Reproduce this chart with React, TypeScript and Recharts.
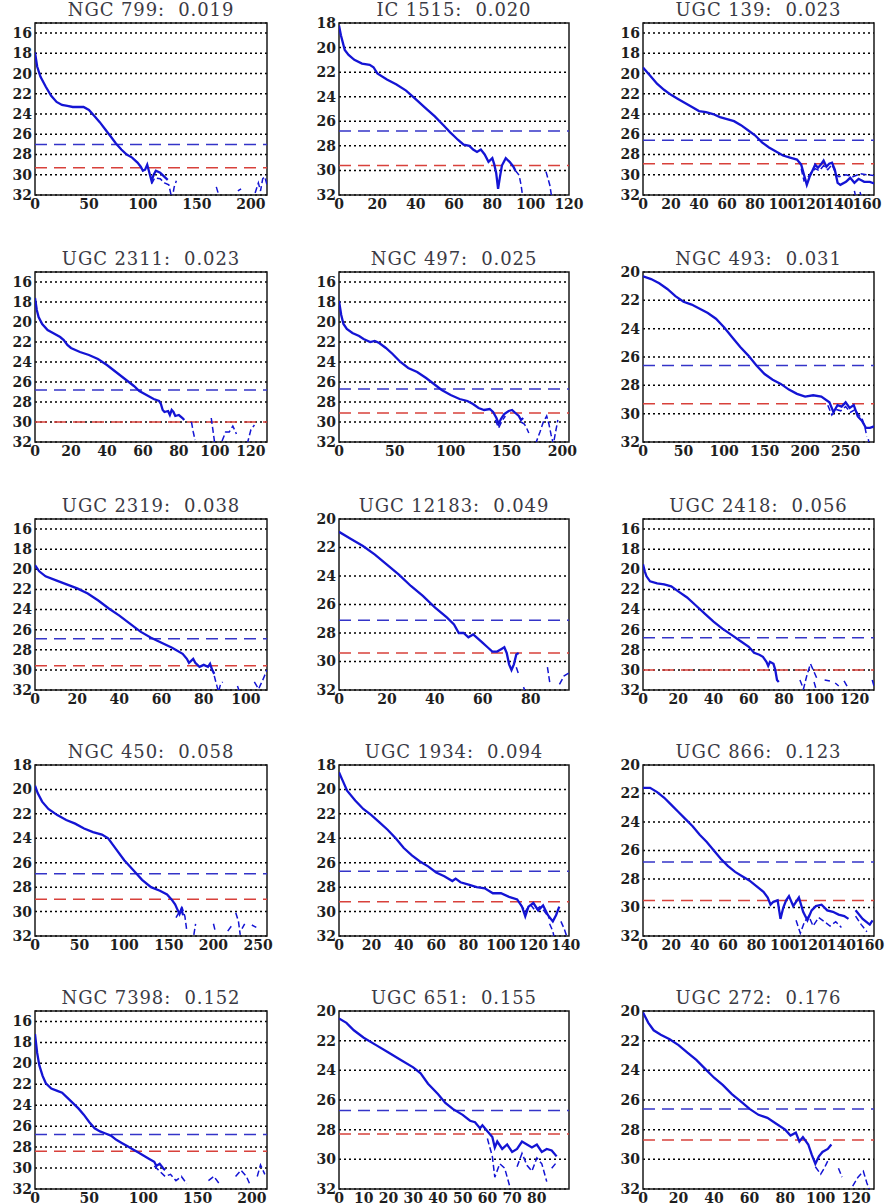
import React from 'react';
import {
  LineChart,
  Line,
  XAxis,
  YAxis,
  CartesianGrid,
  ReferenceLine,
  ReferenceArea
} from 'recharts';

// [radius, surface brightness]; null breaks the line
type Pt = [number, number | null];

const NGC799_PROFILE: Pt[] = [
  [0, 17.9], [2, 19.3], [5, 20.3], [10, 21.3], [15, 22.2], [20, 22.8], [25, 23.1], [30, 23.2],
  [35, 23.3], [40, 23.3], [45, 23.3], [50, 23.6], [55, 24.2], [60, 24.8], [65, 25.5], [70, 26.2],
  [75, 26.9], [80, 27.5], [85, 28.0], [90, 28.3], [95, 28.8], [98, 29.2], [100, 29.6], [102, 29.5],
  [104, 29.0], [106, 29.8], [108, 30.6], [110, 30.0], [112, 29.6], [116, 29.8], [120, 30.2], [123, 30.5]
];
const NGC799_TAIL: Pt[] = [
  [108, 30.9], [111, 30.3], [116, 30.4], [120, 30.8], [124, 31.0], [127, 32.4], [129, 31.2], [131, 30.6], [132, null],
  [168, 31.2], [170, 31.9], [171, null], [188, 31.6], [191, 31.4], [192, null],
  [204, 31.8], [207, 30.8], [209, 31.6], [211, 30.4], [213, 30.2], [215, 31.0]
];

const IC1515_PROFILE: Pt[] = [
  [0, 18.2], [1, 19.0], [2, 19.6], [3, 20.2], [5, 20.6], [8, 21.0], [12, 21.3], [16, 21.4], [18, 21.6],
  [20, 22.1], [25, 22.6], [30, 23.0], [35, 23.5], [40, 24.2], [45, 24.9], [50, 25.6], [55, 26.4],
  [58, 26.9], [60, 27.2], [62, 27.5], [65, 27.9], [68, 28.0], [70, 28.3], [72, 28.5], [74, 28.3],
  [76, 28.7], [78, 29.3], [80, 29.0], [81, 29.5], [82, 30.2], [83, 31.5], [84, 30.5], [85, 29.6],
  [87, 29.0], [89, 29.3], [91, 29.7], [92, 30.0]
];
const IC1515_TAIL: Pt[] = [
  [92, 30.0], [94, 30.4], [95, 31.2], [96, 32.3], [97, null],
  [108, 30.1], [110, 31.2], [111, 32.2]
];

const UGC139_PROFILE: Pt[] = [
  [0, 19.4], [5, 20.2], [10, 21.0], [15, 21.6], [20, 22.1], [25, 22.5], [30, 22.9], [35, 23.3],
  [40, 23.7], [45, 23.8], [50, 24.0], [55, 24.3], [60, 24.5], [65, 24.7], [70, 25.1], [75, 25.6],
  [80, 26.1], [85, 26.8], [90, 27.3], [95, 27.7], [100, 28.1], [105, 28.3], [110, 28.5], [113, 29.0],
  [115, 30.0], [117, 31.0], [119, 30.2], [121, 29.6], [123, 29.0], [125, 29.3], [127, 29.0],
  [129, 28.6], [131, 29.2], [133, 28.9], [135, 28.8], [137, 29.5], [139, 30.8], [141, 31.0],
  [145, 30.7], [148, 30.3], [151, 30.8], [154, 30.4], [158, 30.7], [162, 30.7], [166, 30.9]
];
const UGC139_TAIL: Pt[] = [
  [113, 29.4], [115, 30.6], [117, 30.4], [120, 29.8], [123, 29.4], [126, 29.6], [129, 29.1], [132, 29.5], [135, 29.0],
  [138, 30.0], [140, 30.2], [145, 30.0], [150, 30.2], [155, 29.9], [160, 30.0], [166, 30.1], [167, null],
  [150, null], [151, 31.6], [152, 32.2], [153, null], [155, 31.7], [156, 32.2]
];

const UGC2311_PROFILE: Pt[] = [
  [0, 17.6], [1, 18.8], [2, 19.5], [4, 20.2], [7, 20.8], [10, 21.1], [14, 21.5], [16, 21.8], [18, 22.3],
  [20, 22.6], [25, 23.0], [30, 23.3], [35, 23.7], [40, 24.3], [45, 25.0], [50, 25.7], [55, 26.4],
  [58, 26.9], [62, 27.3], [66, 27.7], [69, 27.9], [70, 28.2], [71, 28.8], [72, 29.0], [74, 28.9],
  [75, 29.3], [76, 28.8], [77, 29.0], [78, 29.4], [80, 29.3], [82, 29.6], [83, 29.8]
];
const UGC2311_TAIL: Pt[] = [
  [87, 30.0], [88, 31.0], [89, 31.8], [90, null],
  [98, 29.6], [100, 32.2], [101, null],
  [104, 31.9], [106, 31.0], [108, 31.0], [110, 30.4], [112, 31.2], [113, null],
  [118, 32.2], [120, 30.8], [122, 30.3]
];

const NGC497_PROFILE: Pt[] = [
  [0, 17.9], [2, 19.3], [4, 20.2], [7, 20.7], [12, 21.1], [18, 21.4], [22, 21.7], [28, 22.0], [32, 21.9],
  [36, 22.1], [42, 22.6], [48, 23.2], [55, 24.0], [62, 24.6], [70, 25.0], [78, 25.6], [85, 26.2],
  [92, 26.8], [100, 27.3], [108, 27.7], [115, 27.9], [120, 28.2], [125, 28.6], [130, 28.8], [135, 28.7],
  [138, 29.0], [141, 29.6], [143, 30.2], [145, 29.7], [148, 29.2], [152, 28.9], [155, 28.8],
  [158, 29.1], [161, 29.4], [163, 29.8], [165, 29.6]
];
const NGC497_TAIL: Pt[] = [
  [140, 29.8], [143, 30.6], [146, 29.9], [149, 29.4], [150, null],
  [163, 30.0], [166, 30.2], [168, 30.6], [170, 31.1], [171, null],
  [176, 32.2], [180, 31.0], [183, 30.0], [186, 29.4], [188, 30.2], [190, 31.3], [192, 32.2], [194, 31.0], [196, 29.8]
];

const NGC493_PROFILE: Pt[] = [
  [0, 20.3], [10, 20.5], [20, 20.8], [30, 21.2], [40, 21.7], [50, 22.1], [60, 22.3], [70, 22.6],
  [80, 22.9], [90, 23.3], [100, 23.9], [110, 24.6], [120, 25.3], [130, 25.9], [140, 26.6], [150, 27.2],
  [160, 27.6], [170, 27.9], [180, 28.3], [190, 28.6], [200, 28.8], [210, 28.7], [220, 28.8],
  [230, 29.2], [235, 29.9], [240, 29.4], [245, 29.5], [250, 29.2], [255, 29.6], [260, 29.4],
  [265, 30.2], [270, 30.5], [275, 31.0], [280, 31.0], [285, 30.9]
];
const NGC493_TAIL: Pt[] = [
  [228, 29.4], [233, 30.1], [238, 29.7], [244, 29.8], [250, 29.5], [256, 29.9], [262, 29.7],
  [266, 30.1], [270, 30.3], [274, 31.0], [276, 31.6], [277, null], [278, 31.8], [279, 32.2]
];

const UGC2319_PROFILE: Pt[] = [
  [0, 19.6], [2, 20.2], [5, 20.7], [10, 21.1], [15, 21.5], [20, 21.9], [25, 22.4], [30, 23.1],
  [35, 23.9], [40, 24.6], [45, 25.4], [50, 26.2], [55, 26.8], [60, 27.3], [65, 27.8], [70, 28.4],
  [72, 28.9], [73, 29.3], [75, 28.9], [76, 29.3], [78, 29.7], [80, 29.5], [82, 29.7], [83, 29.4],
  [84, 30.0], [85, 30.4]
];
const UGC2319_TAIL: Pt[] = [
  [85, 30.6], [86, 31.4], [87, 32.2], [88, 31.4], [89, 31.2], [90, null],
  [96, 31.6], [97, 32.2], [98, null],
  [104, 31.2], [106, 31.9], [108, 31.0], [110, 30.0]
];

const UGC12183_PROFILE: Pt[] = [
  [0, 20.9], [5, 21.4], [10, 21.9], [15, 22.5], [20, 23.2], [25, 23.9], [30, 24.7], [35, 25.4],
  [40, 26.2], [45, 26.9], [48, 27.4], [50, 28.0], [52, 28.0], [54, 28.3], [56, 28.1], [58, 28.4],
  [60, 28.7], [62, 29.0], [64, 29.3], [66, 29.3], [68, 29.1], [69, 29.0], [70, 29.4], [71, 30.2],
  [72, 30.6], [73, 30.2], [74, 29.5], [75, 29.4]
];
const UGC12183_TAIL: Pt[] = [
  [74, 30.4], [75, 30.9], [76, null], [77, 31.8], [78, 32.2], [79, null],
  [87, 30.4], [88, 31.5], [89, null],
  [92, 31.6], [94, 31.0], [96, 30.8]
];

const UGC2418_PROFILE: Pt[] = [
  [0, 19.5], [1, 20.2], [2, 20.7], [4, 21.2], [8, 21.4], [12, 21.5], [16, 21.7], [20, 22.2],
  [25, 22.8], [30, 23.6], [35, 24.4], [40, 25.2], [45, 25.9], [50, 26.5], [55, 27.1], [60, 27.7],
  [63, 28.3], [66, 28.5], [68, 28.7], [70, 29.2], [71, 29.6], [72, 29.2], [74, 29.4], [75, 30.0],
  [76, 31.0], [77, 31.2]
];
const UGC2418_TAIL: Pt[] = [
  [89, 31.0], [91, 31.9], [93, 30.5], [95, 29.4], [97, 30.2], [99, 31.0], [100, null],
  [96, null], [97, 31.2], [98, 31.8], [99, null],
  [103, 31.0], [106, 31.1], [107, null], [109, 31.3], [111, 31.6], [112, null],
  [114, 31.1], [116, 31.7], [117, null], [130, 31.0], [131, 31.6]
];

const NGC450_PROFILE: Pt[] = [
  [0, 19.7], [3, 20.3], [8, 21.0], [15, 21.6], [25, 22.1], [35, 22.5], [45, 22.8], [55, 23.2],
  [65, 23.5], [75, 23.7], [82, 24.0], [90, 24.8], [100, 25.8], [110, 26.6], [120, 27.4], [130, 28.0],
  [140, 28.3], [148, 28.6], [153, 29.0], [157, 29.4], [160, 29.9], [162, 30.2], [164, 29.8], [166, 30.3]
];
const NGC450_TAIL: Pt[] = [
  [158, 30.5], [162, 30.0], [165, 29.7], [168, 30.4], [170, 31.5], [171, null],
  [178, 31.9], [180, 31.0], [181, null],
  [200, 31.0], [202, 31.6], [203, null],
  [216, 31.6], [220, 31.2], [221, null],
  [225, 30.1], [228, 30.8], [230, 31.9], [231, null],
  [232, 31.4], [235, 31.0], [236, null],
  [243, 31.1], [248, 31.3]
];

const UGC1934_PROFILE: Pt[] = [
  [0, 18.6], [2, 19.2], [5, 20.1], [10, 20.9], [15, 21.6], [20, 22.1], [25, 22.7], [30, 23.3],
  [35, 24.0], [40, 24.8], [45, 25.4], [50, 25.9], [55, 26.3], [60, 26.8], [65, 27.1], [70, 27.5],
  [72, 27.3], [75, 27.6], [80, 27.8], [85, 28.0], [90, 28.1], [95, 28.5], [100, 28.5], [105, 28.8],
  [110, 29.0], [113, 29.6], [115, 30.4], [117, 29.6], [120, 29.3], [123, 29.9], [126, 29.5],
  [129, 30.3], [132, 30.8], [134, 30.3], [136, 29.6]
];
const UGC1934_TAIL: Pt[] = [
  [112, 29.4], [115, 30.0], [118, 29.4], [121, 29.9], [124, 29.6], [127, 30.0], [130, 30.6], [131, null],
  [130, 31.0], [132, 31.6], [133, 32.2], [134, null],
  [137, 30.8], [139, 31.4], [141, 32.2]
];

const UGC866_PROFILE: Pt[] = [
  [0, 21.6], [5, 21.6], [10, 21.9], [15, 22.3], [20, 22.8], [25, 23.3], [30, 23.8], [35, 24.3],
  [40, 24.9], [45, 25.4], [50, 26.0], [55, 26.6], [60, 27.1], [65, 27.5], [70, 27.8], [75, 28.1],
  [80, 28.5], [85, 28.9], [88, 29.3], [90, 29.8], [92, 29.6], [95, 29.5], [97, 30.8], [99, 30.0],
  [101, 29.5], [103, 29.2], [106, 29.9], [110, 29.3], [113, 30.3], [116, 30.9], [119, 30.2],
  [122, 29.9], [126, 29.8], [130, 30.2], [134, 30.3], [138, 30.5], [142, 30.6], [145, 30.8], [146, null],
  [150, 30.2], [155, 30.8], [160, 31.2], [162, 30.9]
];
const UGC866_TAIL: Pt[] = [
  [108, 30.9], [111, 31.8], [114, 31.0], [117, 30.6], [120, 31.3], [124, 30.7], [128, 31.0],
  [132, 31.3], [136, 31.0], [140, 31.4], [141, null],
  [150, 30.6], [154, 31.2], [158, 31.7]
];

const NGC7398_PROFILE: Pt[] = [
  [0, 17.2], [2, 19.0], [4, 20.2], [7, 21.2], [10, 21.9], [15, 22.4], [20, 22.6], [25, 22.8],
  [30, 23.3], [35, 23.8], [40, 24.3], [45, 24.9], [50, 25.6], [55, 26.2], [60, 26.5], [65, 26.7],
  [70, 26.9], [75, 27.3], [80, 27.6], [85, 27.9], [90, 28.2], [95, 28.5], [100, 28.8], [105, 29.1],
  [110, 29.4], [112, 29.8], [115, 29.6], [118, 30.0], [120, 30.2]
];
const NGC7398_TAIL: Pt[] = [
  [110, 29.8], [115, 30.3], [120, 30.8], [125, 30.6], [130, 31.2], [135, 30.8], [140, 31.5], [141, null],
  [160, 31.2], [165, 30.8], [170, 31.5], [171, null],
  [185, 30.8], [190, 30.2], [195, 30.8], [198, 31.5], [199, null],
  [205, 30.8], [208, 29.7], [212, 30.6]
];

const UGC651_PROFILE: Pt[] = [
  [0, 20.5], [3, 20.8], [6, 21.3], [10, 21.8], [15, 22.3], [20, 22.8], [25, 23.3], [30, 23.8],
  [33, 24.2], [36, 24.9], [40, 25.6], [43, 26.2], [46, 26.6], [50, 27.0], [53, 27.4], [55, 27.5],
  [57, 27.9], [58, 27.7], [60, 28.1], [62, 28.5], [63, 29.2], [64, 28.8], [66, 29.3], [68, 29.0],
  [70, 29.5], [72, 29.3], [74, 28.8], [76, 29.0], [78, 29.2], [80, 29.0], [82, 29.5], [84, 29.3],
  [86, 29.4], [88, 29.8]
];
const UGC651_TAIL: Pt[] = [
  [60, 28.6], [62, 29.8], [63, 31.2], [65, 30.3], [67, 30.6], [69, 31.8], [70, null],
  [72, 30.5], [74, 29.6], [76, 30.4], [78, 30.8], [80, 29.9], [82, 30.3], [84, 31.5], [85, null],
  [86, 30.6], [88, 30.2]
];

const UGC272_PROFILE: Pt[] = [
  [0, 20.1], [3, 20.8], [6, 21.3], [10, 21.6], [15, 21.9], [20, 22.3], [25, 22.8], [30, 23.3],
  [35, 23.9], [40, 24.5], [45, 25.0], [50, 25.6], [55, 26.1], [60, 26.6], [65, 27.0], [70, 27.2],
  [75, 27.6], [80, 28.0], [83, 28.4], [86, 28.2], [88, 28.8], [90, 28.5], [93, 29.0], [95, 29.7],
  [97, 30.3], [99, 29.8], [101, 29.5], [104, 29.3], [106, 29.0]
];
const UGC272_TAIL: Pt[] = [
  [97, 30.5], [100, 31.0], [102, 30.6], [104, 30.1], [105, null],
  [110, 30.6], [112, 31.2], [113, null],
  [118, 31.8], [121, 31.2], [124, 30.8], [126, 31.6], [128, 32.2]
];

const Y_TICKS_15 = [16, 18, 20, 22, 24, 26, 28, 30, 32];
const Y_TICKS_18 = [18, 20, 22, 24, 26, 28, 30, 32];
const Y_TICKS_20 = [20, 22, 24, 26, 28, 30, 32];

const X_TICKS_50_200 = [0, 50, 100, 150, 200];
const X_TICKS_50_250 = [0, 50, 100, 150, 200, 250];
const X_TICKS_20_80 = [0, 20, 40, 60, 80];
const X_TICKS_20_100 = [0, 20, 40, 60, 80, 100];
const X_TICKS_20_120 = [0, 20, 40, 60, 80, 100, 120];
const X_TICKS_20_140 = [0, 20, 40, 60, 80, 100, 120, 140];
const X_TICKS_20_160 = [0, 20, 40, 60, 80, 100, 120, 140, 160];
const X_TICKS_10_80 = [0, 10, 20, 30, 40, 50, 60, 70, 80];

interface Panel {
  title: string;
  xMax: number;
  xTicks: number[];
  yMin: number;
  yTicks: number[];
  limitBlue: number;
  limitRed: number;
  profile: Pt[];
  tail: Pt[];
}

const PANELS: Panel[] = [
  { title: 'NGC 799:  0.019', xMax: 215, xTicks: X_TICKS_50_200, yMin: 15, yTicks: Y_TICKS_15, limitBlue: 27.0, limitRed: 29.3, profile: NGC799_PROFILE, tail: NGC799_TAIL },
  { title: 'IC 1515:  0.020', xMax: 120, xTicks: X_TICKS_20_120, yMin: 18, yTicks: Y_TICKS_18, limitBlue: 26.8, limitRed: 29.6, profile: IC1515_PROFILE, tail: IC1515_TAIL },
  { title: 'UGC 139:  0.023', xMax: 165, xTicks: X_TICKS_20_160, yMin: 15, yTicks: Y_TICKS_15, limitBlue: 26.6, limitRed: 28.9, profile: UGC139_PROFILE, tail: UGC139_TAIL },
  { title: 'UGC 2311:  0.023', xMax: 129, xTicks: X_TICKS_20_120, yMin: 15, yTicks: Y_TICKS_15, limitBlue: 26.8, limitRed: 30.0, profile: UGC2311_PROFILE, tail: UGC2311_TAIL },
  { title: 'NGC 497:  0.025', xMax: 206, xTicks: X_TICKS_50_200, yMin: 15, yTicks: Y_TICKS_15, limitBlue: 26.7, limitRed: 29.1, profile: NGC497_PROFILE, tail: NGC497_TAIL },
  { title: 'NGC 493:  0.031', xMax: 285, xTicks: X_TICKS_50_250, yMin: 20, yTicks: Y_TICKS_20, limitBlue: 26.6, limitRed: 29.3, profile: NGC493_PROFILE, tail: NGC493_TAIL },
  { title: 'UGC 2319:  0.038', xMax: 110, xTicks: X_TICKS_20_100, yMin: 15, yTicks: Y_TICKS_15, limitBlue: 26.9, limitRed: 29.6, profile: UGC2319_PROFILE, tail: UGC2319_TAIL },
  { title: 'UGC 12183:  0.049', xMax: 96, xTicks: X_TICKS_20_80, yMin: 20, yTicks: Y_TICKS_20, limitBlue: 27.1, limitRed: 29.4, profile: UGC12183_PROFILE, tail: UGC12183_TAIL },
  { title: 'UGC 2418:  0.056', xMax: 131, xTicks: X_TICKS_20_120, yMin: 15, yTicks: Y_TICKS_15, limitBlue: 26.8, limitRed: 30.0, profile: UGC2418_PROFILE, tail: UGC2418_TAIL },
  { title: 'NGC 450:  0.058', xMax: 260, xTicks: X_TICKS_50_250, yMin: 18, yTicks: Y_TICKS_18, limitBlue: 26.9, limitRed: 29.0, profile: NGC450_PROFILE, tail: NGC450_TAIL },
  { title: 'UGC 1934:  0.094', xMax: 142, xTicks: X_TICKS_20_140, yMin: 18, yTicks: Y_TICKS_18, limitBlue: 26.7, limitRed: 29.2, profile: UGC1934_PROFILE, tail: UGC1934_TAIL },
  { title: 'UGC 866:  0.123', xMax: 163, xTicks: X_TICKS_20_160, yMin: 20, yTicks: Y_TICKS_20, limitBlue: 26.8, limitRed: 29.5, profile: UGC866_PROFILE, tail: UGC866_TAIL },
  { title: 'NGC 7398:  0.152', xMax: 214, xTicks: X_TICKS_50_200, yMin: 15, yTicks: Y_TICKS_15, limitBlue: 26.8, limitRed: 28.4, profile: NGC7398_PROFILE, tail: NGC7398_TAIL },
  { title: 'UGC 651:  0.155', xMax: 93, xTicks: X_TICKS_10_80, yMin: 20, yTicks: Y_TICKS_20, limitBlue: 26.7, limitRed: 28.3, profile: UGC651_PROFILE, tail: UGC651_TAIL },
  { title: 'UGC 272:  0.176', xMax: 130, xTicks: X_TICKS_20_120, yMin: 20, yTicks: Y_TICKS_20, limitBlue: 26.6, limitRed: 28.7, profile: UGC272_PROFILE, tail: UGC272_TAIL }
];

// grid geometry (plot-area boxes)
const COL_LEFT = [35, 339, 643];
const COL_W = [232, 230, 231];
const ROW_TOP = [23, 272, 519, 765, 1011];
const ROW_H = [172, 170, 171, 171, 178];

const Y_AXIS_W = 36;
const M_TOP = 12;
const M_RIGHT = 22;
const X_AXIS_H = 22;

const PROFILE_BLUE = '#1414d4';
const LIMIT_BLUE = '#3434c8';
const LIMIT_RED = '#d8413b';

const tickStyle = { fontFamily: 'DejaVu Serif', fontSize: 14, fontWeight: 'bold', fill: '#1e1e1e' };

const toRows = (pts: Pt[]) => pts.map(([x, y]) => ({ x, y }));

const ProfilePanel: React.FC<{ panel: Panel; index: number }> = ({ panel, index }) => {
  const col = index % 3;
  const row = Math.floor(index / 3);
  const plotLeft = COL_LEFT[col];
  const plotW = COL_W[col];
  const plotTop = ROW_TOP[row];
  const plotH = ROW_H[row];
  const chartW = Y_AXIS_W + plotW + M_RIGHT;
  const chartH = M_TOP + plotH + X_AXIS_H + 2;

  return (
    <>
      <div
        style={{
          position: 'absolute',
          left: plotLeft - 30,
          width: plotW + 60,
          top: plotTop - 23,
          height: 20,
          lineHeight: '20px',
          textAlign: 'center',
          fontFamily: 'DejaVu Serif',
          fontSize: 18,
          letterSpacing: 0.9,
          color: '#3a3a44',
          whiteSpace: 'pre',
          zIndex: 1
        }}
      >
        {panel.title}
      </div>
      <div style={{ position: 'absolute', left: plotLeft - Y_AXIS_W, top: plotTop - M_TOP }}>
        <LineChart width={chartW} height={chartH} margin={{ top: M_TOP, right: M_RIGHT, bottom: 2, left: 0 }}>
          <CartesianGrid vertical={false} stroke="#000" strokeWidth={1.5} strokeDasharray="2 3" />
          <XAxis
            type="number"
            dataKey="x"
            domain={[0, panel.xMax]}
            ticks={panel.xTicks}
            interval={0}
            allowDataOverflow
            height={X_AXIS_H}
            axisLine={false}
            tickLine={false}
            tickSize={0}
            tickMargin={4}
            tick={tickStyle}
          />
          <XAxis
            xAxisId="top"
            orientation="top"
            type="number"
            domain={[0, panel.xMax]}
            ticks={panel.xTicks}
            interval={0}
            allowDataOverflow
            mirror
            axisLine={false}
            tick={false}
            tickSize={5}
            tickLine={{ stroke: '#000', strokeWidth: 1.3 }}
          />
          <YAxis
            type="number"
            domain={[panel.yMin, 32]}
            reversed
            ticks={panel.yTicks}
            interval={0}
            allowDataOverflow
            width={Y_AXIS_W}
            axisLine={false}
            tickLine={false}
            tickSize={0}
            tickMargin={3}
            tick={tickStyle}
          />
          <ReferenceLine y={panel.limitBlue} stroke={LIMIT_BLUE} strokeWidth={1.5} strokeDasharray="12 7" />
          <ReferenceLine y={panel.limitRed} stroke={LIMIT_RED} strokeWidth={1.5} strokeDasharray="12 7" />
          <Line
            data={toRows(panel.tail)}
            dataKey="y"
            type="linear"
            stroke={PROFILE_BLUE}
            strokeWidth={1.5}
            strokeDasharray="6 3"
            dot={false}
            connectNulls={false}
            isAnimationActive={false}
          />
          <Line
            data={toRows(panel.profile)}
            dataKey="y"
            type="linear"
            stroke={PROFILE_BLUE}
            strokeWidth={2.3}
            dot={false}
            connectNulls={false}
            isAnimationActive={false}
          />
          <ReferenceArea
            x1={0}
            x2={panel.xMax}
            y1={panel.yMin}
            y2={32}
            fill="none"
            fillOpacity={0}
            stroke="#1a1a1a"
            strokeWidth={1.5}
          />
        </LineChart>
      </div>
    </>
  );
};

export default function App() {
  return (
    <div style={{ position: 'absolute', left: 0, top: 0, width: 887, height: 1204, background: '#fff' }}>
      {PANELS.map((p, i) => (
        <ProfilePanel key={p.title} panel={p} index={i} />
      ))}
    </div>
  );
}
